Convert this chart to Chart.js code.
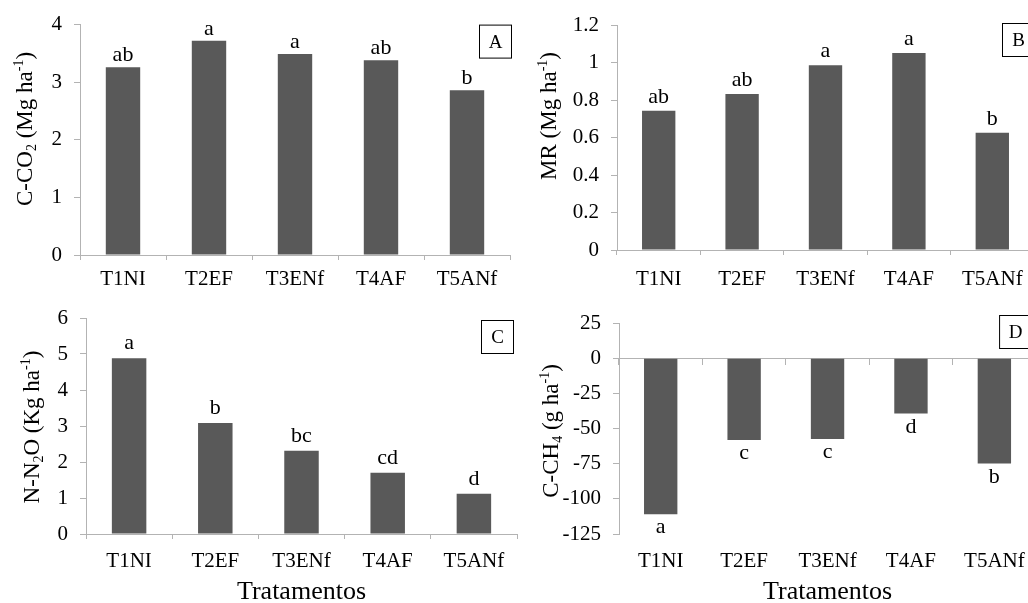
<!DOCTYPE html>
<html lang="pt">
<head>
  <meta charset="UTF-8">
  <title>Emissões por tratamento</title>
  <script src="https://cdn.jsdelivr.net/npm/chart.js"></script>
  <style>
    html, body { margin: 0; padding: 0; background: #fff; overflow: hidden; width: 1028px; height: 603px; }
    .panel { position: absolute; }
  </style>
</head>
<body>
  <div class="panel" style="left:0;top:0;width:514px;height:290px"><canvas id="chartA"></canvas></div>
  <div class="panel" style="left:514px;top:0;width:524px;height:290px"><canvas id="chartB"></canvas></div>
  <div class="panel" style="left:0;top:290px;width:520px;height:313px"><canvas id="chartC"></canvas></div>
  <div class="panel" style="left:514px;top:290px;width:526px;height:313px"><canvas id="chartD"></canvas></div>

  <script>
    const treatments = ["T1NI", "T2EF", "T3ENf", "T4AF", "T5ANf"];

    const co2Values = [3.26, 3.72, 3.49, 3.38, 2.86];
    const co2Letters = ["ab", "a", "a", "ab", "b"];
    const co2Range = [0, 4, 1];

    const mrValues = [0.743, 0.832, 0.985, 1.051, 0.626];
    const mrLetters = ["ab", "ab", "a", "a", "b"];
    const mrRange = [0, 1.2, 0.2];

    const n2oValues = [4.88, 3.08, 2.31, 1.70, 1.12];
    const n2oLetters = ["a", "b", "bc", "cd", "d"];
    const n2oRange = [0, 6, 1];

    const ch4Values = [-110.9, -58.1, -57.4, -39.4, -74.9];
    const ch4Letters = ["a", "c", "c", "d", "b"];
    const ch4Range = [-125, 25, 25];

    const FONT = "'Liberation Serif', 'Times New Roman', serif";
    const BAR = "#595959";
    const AXIS = "#b3b3b3";

    // draws letters over bars, the panel box and the titles (with sub/superscripts)
    const decorations = {
      id: "decorations",
      afterDatasetsDraw(chart, args, opts) {
        const ctx = chart.ctx;
        const area = chart.chartArea;
        const meta = chart.getDatasetMeta(0);
        ctx.save();
        ctx.fillStyle = "#000";
        ctx.font = "22px " + FONT;
        ctx.textAlign = "center";
        ctx.textBaseline = "alphabetic";
        meta.data.forEach((bar, i) => {
          const v = chart.data.datasets[0].data[i];
          const y = v >= 0 ? bar.y - opts.letterGap : bar.y + 19;
          ctx.fillText(opts.letters[i], bar.x, y);
        });

        // panel box
        const bx = area.right + opts.boxRight - 32, by = area.top + opts.boxOffset;
        ctx.strokeStyle = "#000";
        ctx.lineWidth = 1;
        ctx.strokeRect(bx + 0.5, by + 0.5, 32, 33);
        ctx.font = "19px " + FONT;
        ctx.textBaseline = "middle";
        ctx.fillText(opts.tag, bx + 16.5, by + 18);

        // y title
        ctx.translate(area.left - opts.titleX, opts.titleY);
        ctx.rotate(-Math.PI / 2);
        const base = 23;
        const parts = opts.yTitle.map(p => {
          const size = p.s ? Math.round(base * 0.62) : base;
          ctx.font = size + "px " + FONT;
          return { t: p.t, s: p.s, size, w: ctx.measureText(p.t).width };
        });
        const total = parts.reduce((a, p) => a + p.w, 0);
        let x = -total / 2;
        ctx.textAlign = "left";
        ctx.textBaseline = "alphabetic";
        parts.forEach(p => {
          ctx.font = p.size + "px " + FONT;
          const dy = p.s === "sub" ? 4 : p.s === "sup" ? -9 : 0;
          ctx.fillText(p.t, x, 8 + dy);
          x += p.w;
        });
        ctx.restore();

        if (opts.xTitle) {
          ctx.save();
          ctx.fillStyle = "#000";
          ctx.font = "26px " + FONT;
          ctx.textAlign = "center";
          ctx.textBaseline = "middle";
          ctx.fillText(opts.xTitle, (area.left + area.right) / 2, area.bottom + 58);
          ctx.restore();
        }
      }
    };

    function makeChart(id, values, letters, range, p) {
      const negative = range[0] < 0;
      const xAxis = {
        offset: true,
        grid: { offset: true, drawOnChartArea: false, drawTicks: true, tickLength: negative ? 6 : 5, color: AXIS },
        border: { color: AXIS },
        ticks: { display: !negative, color: "#000", font: { family: FONT, size: 21 }, padding: p.xPad },
        afterFit: s => { s.height = p.xHeight; }
      };
      const scales = {
        y: {
          min: range[0], max: range[1],
          afterFit: s => { s.width = p.yWidth; },
          ticks: {
            stepSize: range[2], color: "#000", padding: 12,
            font: { family: FONT, size: 21 },
            callback: v => String(+v.toFixed(1))
          },
          grid: { drawOnChartArea: false, drawTicks: true, tickLength: 6, color: AXIS },
          border: { color: AXIS }
        }
      };
      if (negative) {
        xAxis.position = { y: 0 };
        delete xAxis.afterFit;
        scales.x = xAxis;
        scales.xb = {
          type: "category", position: "bottom", offset: true,
          grid: { display: false, drawTicks: false },
          border: { display: false },
          ticks: { color: "#000", font: { family: FONT, size: 21 }, padding: p.xPad },
          afterFit: s => { s.height = p.xHeight; }
        };
      } else {
        scales.x = xAxis;
      }
      return new Chart(document.getElementById(id), {
        type: "bar",
        data: {
          labels: treatments,
          datasets: [{ data: values, backgroundColor: BAR, barPercentage: 0.4, categoryPercentage: 1 }]
        },
        options: {
          responsive: true,
          maintainAspectRatio: false,
          animation: false,
          layout: { padding: { top: p.top, right: p.right, left: 0, bottom: 0 } },
          scales,
          plugins: {
            legend: { display: false },
            tooltip: { enabled: false },
            decorations: Object.assign({ letters }, p)
          }
        },
        plugins: [decorations]
      });
    }

    makeChart("chartA", co2Values, co2Letters, co2Range, {
      top: 23, right: 4, yWidth: 80, xHeight: 35, xPad: 7, letterGap: 6,
      tag: "A", boxOffset: 0, boxRight: 1, titleX: 56, titleY: 129,
      yTitle: [{ t: "C-CO" }, { t: "2", s: "sub" }, { t: " (Mg ha" }, { t: "-1", s: "sup" }, { t: ")" }]
    });
    makeChart("chartB", mrValues, mrLetters, mrRange, {
      top: 25, right: 4, yWidth: 103, xHeight: 40, xPad: 12, letterGap: 8,
      tag: "B", boxOffset: -2, boxRight: 0, titleX: 69, titleY: 116,
      yTitle: [{ t: "MR (Mg ha" }, { t: "-1", s: "sup" }, { t: ")" }]
    });
    makeChart("chartC", n2oValues, n2oLetters, n2oRange, {
      top: 28, right: 3, yWidth: 86, xHeight: 69, xPad: 10, letterGap: 9,
      tag: "C", boxOffset: 2, boxRight: -4, titleX: 55, titleY: 137, xTitle: "Tratamentos",
      yTitle: [{ t: "N-N" }, { t: "2", s: "sub" }, { t: "O (Kg ha" }, { t: "-1", s: "sup" }, { t: ")" }]
    });
    makeChart("chartD", ch4Values, ch4Letters, ch4Range, {
      top: 33, right: 3, yWidth: 105, xHeight: 69, xPad: 15, letterGap: 8,
      tag: "D", boxOffset: -8, boxRight: -5, titleX: 69, titleY: 141, xTitle: "Tratamentos",
      yTitle: [{ t: "C-CH" }, { t: "4", s: "sub" }, { t: " (g ha" }, { t: "-1", s: "sup" }, { t: ")" }]
    });
  </script>
</body>
</html>
